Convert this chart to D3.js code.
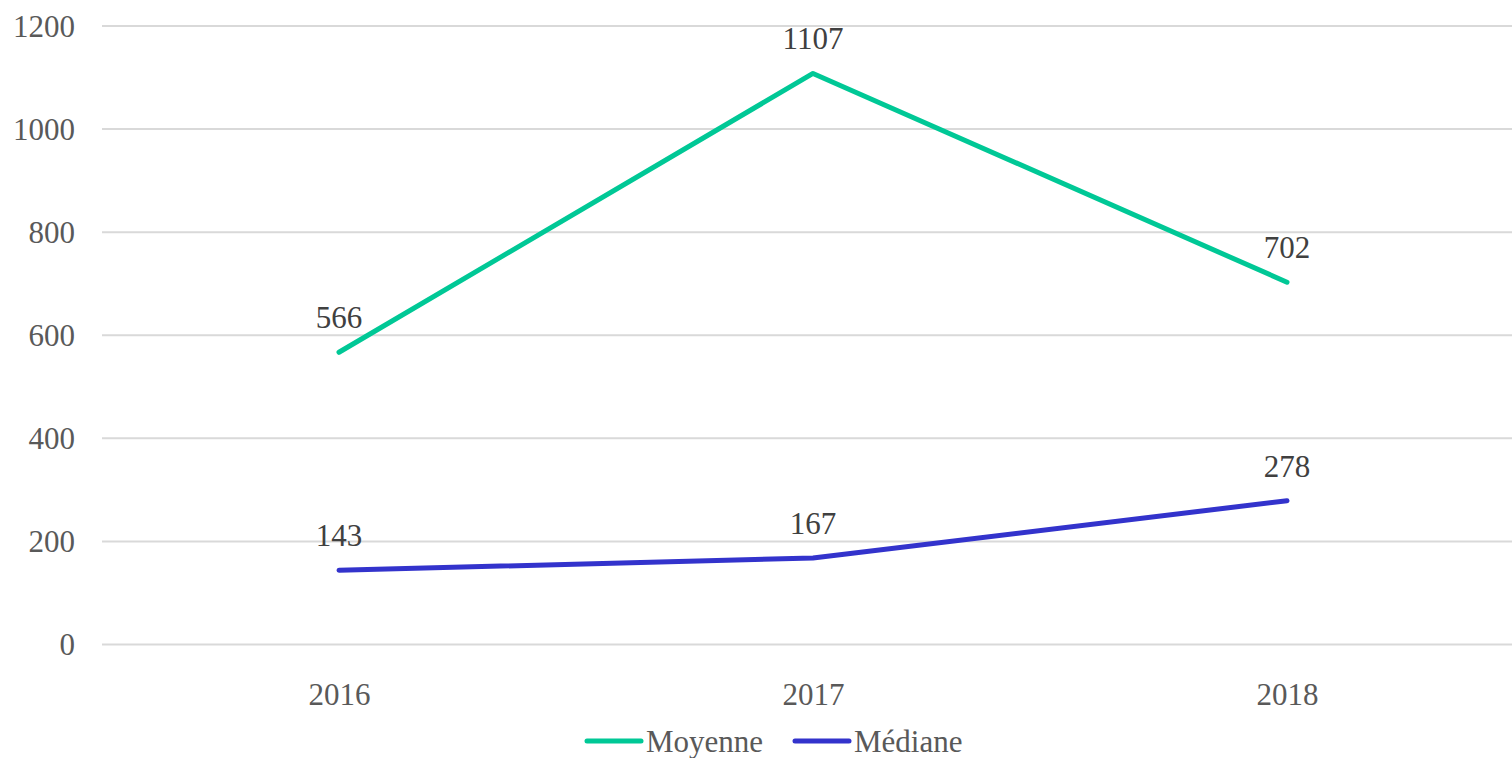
<!DOCTYPE html>
<html><head><meta charset="utf-8">
<script src="https://cdn.jsdelivr.net/npm/d3@7"></script>
<style>
@font-face{font-family:"ChartSerif";src:local("Liberation Serif"),local("LiberationSerif"),local("Times New Roman");}
body{margin:0}
#c text{font-family:"Times New Roman","Liberation Serif",Tinos,serif !important;}
</style>
</head><body>
<svg id="c" width="1512" height="758"></svg>
<script>
const categories = ["2016", "2017", "2018"];
const moyenne = [566, 1107, 702];
const mediane = [143, 167, 278];
const yTicks = [0, 200, 400, 600, 800, 1000, 1200];
const seriesNames = ["Moyenne", "Médiane"];
const colors = ["#00C896", "#3333CC"];

const svg = d3.select("#c");
const fs = 31;
const x = d3.scalePoint().domain(categories).range([339, 1287]);
const y = d3.scaleLinear().domain([0, 1200]).range([644, 25.5]);

const yAxis = d3.axisLeft(y).tickValues(yTicks).tickFormat(d3.format("d")).tickSize(-1420).tickPadding(27);
const gy = svg.append("g").attr("transform", "translate(102,0)").call(yAxis);
gy.attr("font-family", null).attr("font-size", fs);
gy.select(".domain").remove();
gy.selectAll(".tick line").attr("stroke", "#d9d9d9").attr("stroke-width", 2);
gy.selectAll(".tick text").attr("fill", "#595959").attr("dy", "0.34em");

const xAxis = d3.axisBottom(x).tickSize(0).tickPadding(39);
const gx = svg.append("g").attr("transform", "translate(0,644)").call(xAxis);
gx.attr("font-family", null).attr("font-size", fs);
gx.select(".domain").remove();
gx.selectAll(".tick text").attr("fill", "#595959");

const series = [moyenne, mediane];
const line = d3.line().x((d, i) => x(categories[i])).y(d => y(d));
series.forEach((s, k) => {
  svg.append("path").datum(s).attr("d", line).attr("fill", "none")
    .attr("stroke", colors[k]).attr("stroke-width", 5).attr("stroke-linecap", "round").attr("stroke-linejoin", "round");
  svg.append("g").selectAll("text").data(s).join("text")
    .attr("x", (d, i) => x(categories[i])).attr("y", d => y(d) - 24)
    .attr("text-anchor", "middle").attr("fill", "#404040")
    .attr("font-size", fs).text(d => d);
});

const legendX = [587, 795];
seriesNames.forEach((n, k) => {
  const g = svg.append("g").attr("transform", `translate(${legendX[k]},741)`);
  g.append("line").attr("x1", 0).attr("x2", 54).attr("stroke", colors[k]).attr("stroke-width", 5).attr("stroke-linecap", "round");
  g.append("text").attr("x", 59).attr("y", 11).attr("fill", "#595959").attr("font-size", fs).text(n);
});
</script>
</body></html>
